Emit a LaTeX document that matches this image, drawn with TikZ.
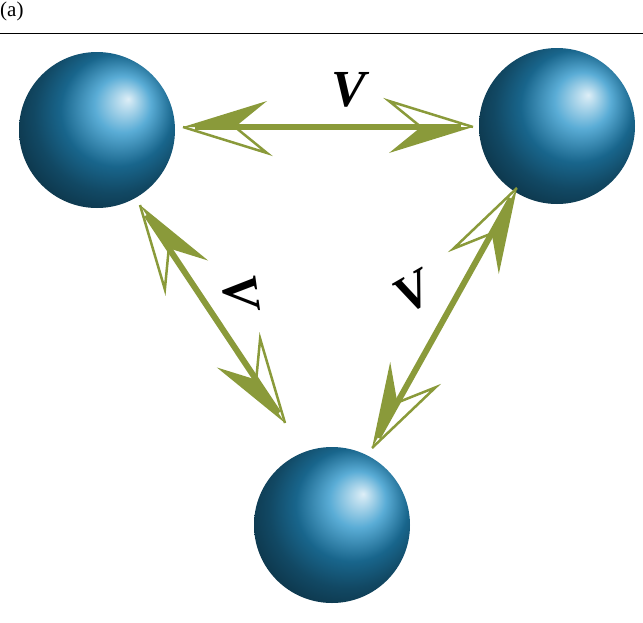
\documentclass[tikz,border=0pt]{standalone}
\usepackage{fontspec}
\setmainfont{Liberation Serif}
\usetikzlibrary{calc}
\definecolor{olivec}{RGB}{138,154,58}
\definecolor{ballc}{RGB}{35,145,200}
\tikzset{
  x=1pt,y=-1pt,
  sphere/.style={circle,minimum size=156pt,inner sep=0pt,ball color=ballc,shading angle=-90},
  vlab/.style={font=\fontsize{52}{52}\selectfont\itshape\bfseries},
  hh/.pic={
    \fill[olivec] (0,0) -- (-84,26) -- (-52,0) -- cycle;
    \draw[olivec,line width=2.5pt,line join=miter] (0,0) -- (-84,-26) -- (-52,0);
  }
}
\newcommand{\dblarrow}[2]{%
  \draw[olivec,line width=6pt,shorten <=12pt,shorten >=12pt] (#1) -- (#2);
  \path let \p1=(#1),\p2=(#2),\n1={atan2(\y2-\y1,\x2-\x1)} in
    pic[rotate=\n1] at (#2) {hh} pic[rotate=\n1+180] at (#1) {hh};
}
\begin{document}
\begin{tikzpicture}
\useasboundingbox (0,0) rectangle (643,622);
\node[anchor=north west,inner sep=0pt,font=\fontsize{21}{21}\selectfont] (lab) at (0,2) {(a)};
\draw[line width=0.6pt] (0,33) -- (643,33);
\node[sphere] (s1) at (97,130) {};
\node[sphere] (s2) at (557,126) {};
\node[sphere] (s3) at (332,525) {};
\coordinate (a1) at (183,127);
\coordinate (a2) at (473,127);
\coordinate (b1) at (140,205);
\coordinate (b2) at (285,423);
\coordinate (c1) at (517,188);
\coordinate (c2) at (372,448);
\dblarrow{a1}{a2}
\dblarrow{b1}{b2}
\dblarrow{c1}{c2}
\node[vlab] (v1) at (349,90) {V};
\node[vlab,rotate=-82] (v2) at (240,292) {V};
\node[vlab,rotate=30] (v3) at (413,292) {V};
\end{tikzpicture}
\end{document}
